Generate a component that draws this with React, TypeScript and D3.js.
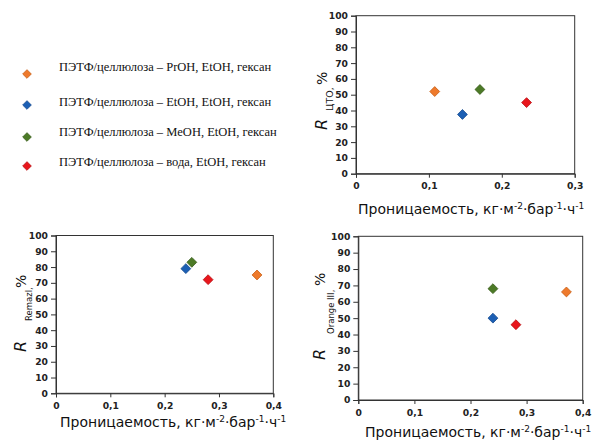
import React, { useRef, useEffect } from 'react'
import * as d3 from 'd3'

// series (legend order)
const seriesNames = [
  'ПЭТФ/целлюлоза – PrOH, EtOH, гексан',
  'ПЭТФ/целлюлоза – EtOH, EtOH, гексан',
  'ПЭТФ/целлюлоза – MeOH, EtOH, гексан',
  'ПЭТФ/целлюлоза – вода, EtOH, гексан',
]
const seriesFill = ['#EE7A2C', '#1C5FB4', '#4C7A26', '#E8161C']
const seriesStroke = ['#C85E14', '#154A8E', '#365A18', '#B80E12']

// permeability, kg·m-2·bar-1·h-1 and rejection, %
const permeabilityUTO = [0.108, 0.146, 0.170, 0.234]
const rejectionUTO = [52, 37.5, 53.3, 45]
const permeabilityRemazol = [0.37, 0.239, 0.25, 0.28]
const rejectionRemazol = [75, 79, 83, 72]
const permeabilityOrange = [0.371, 0.24, 0.24, 0.281]
const rejectionOrange = [66, 50, 68, 46]

const yTicks = [0, 10, 20, 30, 40, 50, 60, 70, 80, 90, 100]
const xTicksUTO = [0, 0.1, 0.2, 0.3]
const xTicks04 = [0, 0.1, 0.2, 0.3, 0.4]

const FONT = 'DejaVu Sans, Verdana, sans-serif'
const fmt = (v: number) => (v === 0 ? '0' : d3.format('.1f')(v).replace('.', ','))

type PanelProps = {
  left: number; right: number; top: number; bottom: number
  xMax: number; xTicks: number[]
  xs: number[]; ys: number[]
  sub: string; subSize: number
  rPos: number[]; subPos: number[]; pPos: number[]
  xTitleX: number; xTitleY: number
}

const Panel = (props: PanelProps) => {
  const { left, right, top, bottom, xMax, xTicks, xs, ys, sub } = props
  const ref = useRef<SVGGElement>(null)

  useEffect(() => {
    const g = d3.select(ref.current)
    g.selectAll('*').remove()
    const x = d3.scaleLinear().domain([0, xMax]).range([left, right])
    const y = d3.scaleLinear().domain([0, 100]).range([bottom, top])

    // plot area border
    g.append('rect')
      .attr('x', left).attr('y', top)
      .attr('width', right - left).attr('height', bottom - top)
      .attr('fill', 'none').attr('stroke', '#333').attr('stroke-width', 1)

    const yAxis = d3.axisLeft(y).tickValues(yTicks).tickSize(5).tickPadding(3).tickFormat((d) => String(d))
    const xAxis = d3.axisBottom(x).tickValues(xTicks).tickSize(4).tickPadding(5).tickFormat((d) => fmt(+d))

    g.append('g').attr('transform', `translate(${left},0)`).call(yAxis)
    g.append('g').attr('transform', `translate(0,${bottom})`).call(xAxis)
    g.selectAll('.domain').attr('stroke', '#333')
    g.selectAll('.tick line').attr('stroke', '#333')
    g.selectAll('.tick text')
      .attr('font-family', FONT)
      .attr('font-size', 9.2)
      .attr('font-weight', 'bold')
      .attr('fill', '#222')

    const diamond = d3.symbol().type(d3.symbolDiamond2).size(62)
    g.append('g').selectAll('path')
      .data(xs.map((v, i) => ({ v, r: ys[i], i })))
      .enter().append('path')
      .attr('d', diamond)
      .attr('transform', (d) => `translate(${x(d.v)},${y(d.r)})`)
      .attr('fill', (d) => seriesFill[d.i])
      .attr('stroke', (d) => seriesStroke[d.i])
      .attr('stroke-width', 0.8)
  }, [props])

  const rot = (p: number[]) => `translate(${p[0]},${p[1]}) rotate(-90)`
  return (
    <g>
      <g ref={ref} />
      <g fontFamily={FONT} fill="#111">
        <text transform={rot(props.rPos)} fontSize={16} fontStyle="italic">R</text>
        <text transform={rot(props.subPos)} fontSize={props.subSize}>{sub}</text>
        <text transform={rot(props.pPos)} fontSize={14}>%</text>
      </g>
      <text x={props.xTitleX} y={props.xTitleY} fontFamily={FONT} fontSize={14} fill="#111">
        Проницаемость, кг·м<tspan fontSize={9} dy={-5}>-2</tspan>
        <tspan dy={5}>·бар</tspan><tspan fontSize={9} dy={-5}>-1</tspan>
        <tspan dy={5}>·ч</tspan><tspan fontSize={9} dy={-5}>-1</tspan>
      </text>
    </g>
  )
}

const legendY = [74, 105, 137, 166]
const legendTextY = [71, 106, 136, 166]

const Legend = () => {
  const diamond = d3.symbol().type(d3.symbolDiamond2).size(48)
  return (
    <g>
      {seriesNames.map((name, i) => (
        <g key={name}>
          <path d={diamond() || ''} transform={`translate(27,${legendY[i]})`}
            fill={seriesFill[i]} stroke={seriesStroke[i]} strokeWidth={0.8} />
          <text x={59} y={legendTextY[i]} fontFamily="Liberation Serif, Times New Roman, serif" fontSize={12.5} fill="#111">{name}</text>
        </g>
      ))}
    </g>
  )
}

export default function App() {
  return (
    <svg width={595} height={441} style={{ position: 'absolute', left: 0, top: 0, background: '#fff' }}>
      <Legend />
      <Panel left={356} right={574.7} top={15.7} bottom={173.7} xMax={0.3} xTicks={xTicksUTO}
        xs={permeabilityUTO} ys={rejectionUTO} sub="ЦТО," subSize={9.5}
        rPos={[327, 130]} subPos={[333, 111]} pPos={[327, 85]}
        xTitleX={358} xTitleY={214} />
      <Panel left={56} right={273.3} top={235.5} bottom={393.3} xMax={0.4} xTicks={xTicks04}
        xs={permeabilityRemazol} ys={rejectionRemazol} sub="Remazl," subSize={8.5}
        rPos={[26, 352]} subPos={[32, 321]} pPos={[26, 288]}
        xTitleX={60} xTitleY={427} />
      <Panel left={358.3} right={582.7} top={236.3} bottom={400} xMax={0.4} xTicks={xTicks04}
        xs={permeabilityOrange} ys={rejectionOrange} sub="Orange III," subSize={8.5}
        rPos={[325, 360]} subPos={[334, 334]} pPos={[325, 286]}
        xTitleX={365} xTitleY={437} />
    </svg>
  )
}
